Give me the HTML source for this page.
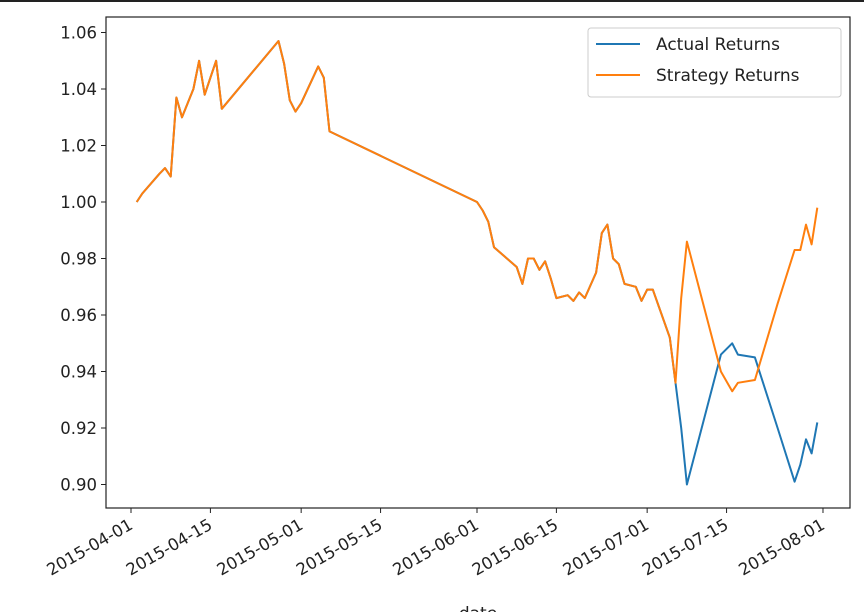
<!DOCTYPE html>
<html><head><meta charset="utf-8"><style>
html,body{margin:0;padding:0;background:#fff;}
svg{display:block;font-family:"DejaVu Sans","Liberation Sans",sans-serif;}
</style></head><body>
<svg id="chart" width="864" height="612" viewBox="0 0 864 612">
<rect x="0" y="0" width="864" height="2" fill="#222"/>
<g id="plot"></g>
</svg>
<script>
const days = [1,2,5,6,7,8,9,10,11,12,13,14,15,16,26,27,28,29,30,33,34,35,61,62,63,64,68,69,70,71,72,73,74,75,77,78,79,80,82,83,84,85,86,87,89,90,91,92,95,96,97,98,104,106,107,110,114,117,118,119,120,121];
const actualValues = [1.000,1.003,1.010,1.012,1.009,1.037,1.030,1.035,1.040,1.050,1.038,1.044,1.050,1.033,1.057,1.049,1.036,1.032,1.035,1.048,1.044,1.025,1.000,0.997,0.993,0.984,0.977,0.971,0.980,0.980,0.976,0.979,0.973,0.966,0.967,0.965,0.968,0.966,0.975,0.989,0.992,0.980,0.978,0.971,0.970,0.965,0.969,0.969,0.952,0.936,0.920,0.900,0.946,0.950,0.946,0.945,0.920,0.901,0.907,0.916,0.911,0.922];
const strategyValues = [1.000,1.003,1.010,1.012,1.009,1.037,1.030,1.035,1.040,1.050,1.038,1.044,1.050,1.033,1.057,1.049,1.036,1.032,1.035,1.048,1.044,1.025,1.000,0.997,0.993,0.984,0.977,0.971,0.980,0.980,0.976,0.979,0.973,0.966,0.967,0.965,0.968,0.966,0.975,0.989,0.992,0.980,0.978,0.971,0.970,0.965,0.969,0.969,0.952,0.936,0.966,0.986,0.940,0.933,0.936,0.937,0.964,0.983,0.983,0.992,0.985,0.998];
const yTicks = [0.90,0.92,0.94,0.96,0.98,1.00,1.02,1.04,1.06];
const xTickDays = [0,14,30,44,61,75,91,105,122];
const xTickLabels = ["2015-04-01","2015-04-15","2015-05-01","2015-05-15","2015-06-01","2015-06-15","2015-07-01","2015-07-15","2015-08-01"];

const NS="http://www.w3.org/2000/svg";
const L=106,R=850,T=17,B=508;
function xs(d){return 131+d*5.672;}
function ys(v){return 32.5+(1.06-v)*(56.5/0.02);}
const g=document.getElementById('plot');
function mk(tag,attrs){const e=document.createElementNS(NS,tag);for(const k in attrs)e.setAttribute(k,attrs[k]);g.appendChild(e);return e;}

yTicks.forEach((v,i)=>{
  const y=ys(v);
  const t=mk('line',{x1:L-5,x2:L,y1:y,y2:y,stroke:'#222','stroke-width':1});
  
  
  const lb=mk('text',{x:L-9,y:y+6,'text-anchor':'end','font-size':'16.5',fill:'#222'});
  lb.textContent=v.toFixed(2);
  
  
});
xTickDays.forEach((d,i)=>{
  const x=xs(d);
  const t=mk('line',{x1:x,x2:x,y1:B,y2:B+5,stroke:'#222','stroke-width':1});
  
  
  const lb=mk('text',{x:x+3,y:B+20,'text-anchor':'end','font-size':'16.5',fill:'#222',transform:`rotate(-30 ${x+3} ${B+20})`});
  lb.textContent=xTickLabels[i];
  
  
});
function series(vals,color,name){
  const pts=days.map((d,i)=>xs(d).toFixed(1)+','+ys(vals[i]).toFixed(1)).join(' ');
  const p=mk('polyline',{points:pts,fill:'none',stroke:color,'stroke-width':2,'stroke-linejoin':'round'});
  
  
}
series(actualValues,'#1f77b4','actual-returns-line');
series(strategyValues,'#ff7f0e','strategy-returns-line');

const frame=mk('rect',{x:L,y:T,width:R-L,height:B-T,fill:'none',stroke:'#222','stroke-width':1.2});



const xl=mk('text',{x:(L+R)/2,y:619,'text-anchor':'middle','font-size':'17',fill:'#222'});
xl.textContent='date';



const lg=mk('rect',{x:588,y:28,width:253,height:69,rx:3,fill:'#fff','fill-opacity':0.8,stroke:'#ccc'});


[['Actual Returns','#1f77b4',44],['Strategy Returns','#ff7f0e',75]].forEach(([n,c,y])=>{
  const ln=mk('line',{x1:596,x2:640,y1:y,y2:y,stroke:c,'stroke-width':2});
  
  
  const tx=mk('text',{x:656,y:y+6,'font-size':'17',fill:'#222'});
  tx.textContent=n;
  
  
});
</script>
</body></html>
